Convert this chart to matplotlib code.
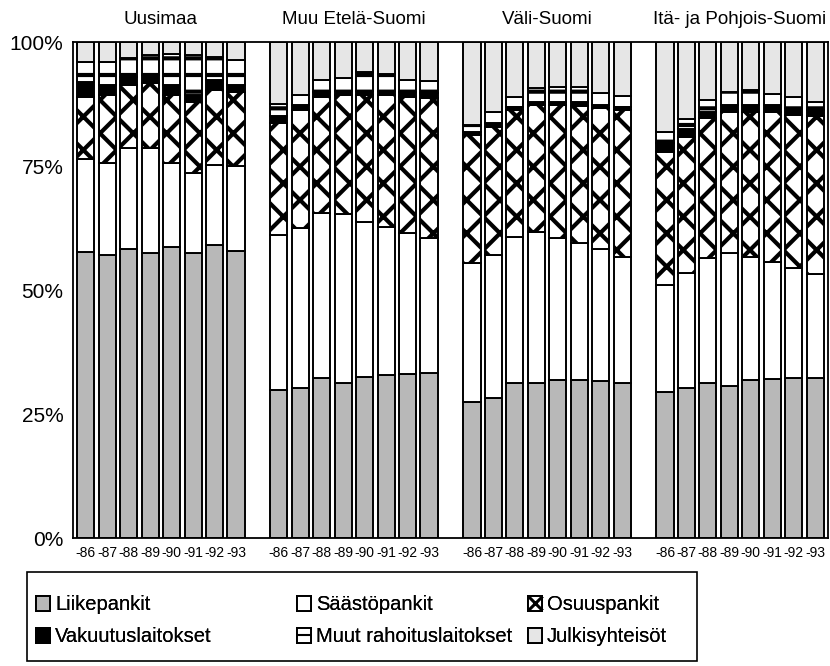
import numpy as np
import matplotlib
matplotlib.use("Agg")
import matplotlib.pyplot as plt
from matplotlib.patches import Patch, Rectangle
from matplotlib.lines import Line2D
from matplotlib.transforms import blended_transform_factory

plt.rcParams['font.family'] = ['Liberation Sans', 'DejaVu Sans']
plt.rcParams['hatch.linewidth'] = 3.0

# -----------------------------
# Data (share of total, %), 8 years per region
# -----------------------------
regions = ["Uusimaa", "Muu Etelä-Suomi", "Väli-Suomi", "Itä- ja Pohjois-Suomi"]
years = ["-86", "-87", "-88", "-89", "-90", "-91", "-92", "-93"]

liikepankit = [57.7, 57.1, 58.3, 57.5, 58.7, 57.5, 59.1, 57.9,
               29.8, 30.2, 32.3, 31.3, 32.5, 32.9, 33.1, 33.3,
               27.5, 28.2, 31.3, 31.2, 31.9, 31.9, 31.7, 31.3,
               29.4, 30.2, 31.3, 30.6, 31.9, 32.0, 32.2, 32.2]
saastopankit = [18.7, 18.5, 20.3, 21.1, 16.9, 16.1, 16.1, 17.1,
                31.3, 32.3, 33.2, 34.0, 31.2, 29.8, 28.4, 27.2,
                27.9, 28.9, 29.4, 30.5, 28.6, 27.6, 26.6, 25.4,
                21.6, 23.2, 25.1, 26.9, 24.8, 23.6, 22.2, 21.0]
osuuspankit = [12.5, 13.7, 12.7, 13.1, 13.7, 14.3, 15.1, 14.9,
               22.6, 23.8, 23.4, 24.0, 25.6, 26.6, 27.4, 28.2,
               25.9, 25.8, 25.6, 25.6, 26.8, 27.6, 28.4, 29.6,
               26.8, 27.4, 28.3, 28.4, 29.2, 30.3, 30.9, 31.9]
vakuutus = [3.0, 2.0, 1.6, 1.6, 2.0, 1.4, 2.0, 1.4,
            1.3, 1.0, 1.0, 0.8, 0.8, 0.8, 1.0, 1.0,
            0.6, 0.8, 0.6, 0.6, 0.6, 0.8, 0.6, 0.6,
            1.8, 1.7, 1.2, 1.4, 1.4, 1.4, 1.4, 1.2]
muut = [4.1, 4.7, 3.9, 4.1, 6.2, 8.1, 4.7, 5.1,
        2.5, 2.0, 2.4, 2.6, 3.9, 3.4, 2.4, 2.4,
        1.4, 2.2, 2.0, 2.8, 3.0, 3.0, 2.4, 2.2,
        2.3, 2.0, 2.4, 2.6, 3.0, 2.2, 2.2, 1.6]
julkis = [4.0, 4.0, 3.2, 2.6, 2.5, 2.6, 3.0, 3.6,
          12.5, 10.7, 7.7, 7.3, 6.0, 6.5, 7.7, 7.9,
          16.7, 14.1, 11.1, 9.3, 9.1, 9.1, 10.3, 10.9,
          18.1, 15.5, 11.7, 10.1, 9.7, 10.5, 11.1, 12.1]

series = [
    ("Liikepankit", liikepankit, "#b8b8b8", ""),
    ("Säästöpankit", saastopankit, "white", ""),
    ("Osuuspankit", osuuspankit, "white", "x"),
    ("Vakuutuslaitokset", vakuutus, "black", ""),
    ("Muut rahoituslaitokset", muut, "white", "-"),
    ("Julkisyhteisöt", julkis, "#e6e6e6", ""),
]

# bar positions: 8 bars per region, one empty slot between regions
n_years = len(years)
x = np.array([g * (n_years + 1) + i for g in range(len(regions)) for i in range(n_years)])

fig = plt.figure(figsize=(8.3, 6.66), dpi=100)
ax = fig.add_axes([73 / 830, 128 / 666, 755 / 830, 496 / 666])

bottom = np.zeros(len(x))
handles = {}
for name, vals, color, hatch in series:
    vals = np.array(vals)
    ax.bar(x, vals, bottom=bottom, width=0.8, color=color, edgecolor="black",
           linewidth=1.4, hatch=hatch)
    handles[name] = Patch(facecolor=color, edgecolor="black", linewidth=1.4)
    bottom += vals

# legend boxes like in the print: X inside for Osuuspankit, bar inside for Muut
handles["Osuuspankit"] = (handles["Osuuspankit"],
                          Line2D([], [], marker="x", markersize=10, mew=2.2,
                                 color="black", linestyle="none"))
handles["Muut rahoituslaitokset"] = (handles["Muut rahoituslaitokset"],
                                     Line2D([], [], marker="_", markersize=10, mew=1.5,
                                            color="black", linestyle="none"))

ax.set_xlim(-0.6, x[-1] + 0.6)
ax.set_ylim(0, 100)
ax.set_yticks([0, 25, 50, 75, 100])
ax.set_yticklabels(["0%", "25%", "50%", "75%", "100%"], fontsize=15)
ax.set_xticks(x)
ax.set_xticklabels(years * len(regions), fontsize=10)
ax.tick_params(axis="both", length=0)
ax.tick_params(axis="y", pad=7)
ax.tick_params(axis="x", pad=6)
for s in ax.spines.values():
    s.set_linewidth(1.3)

# region titles
trans = blended_transform_factory(ax.transData, ax.transAxes)
for g, name in enumerate(regions):
    xc = g * (n_years + 1) + (n_years - 1) / 2
    ax.text(xc, 1.045, name, transform=trans, ha="center", va="center", fontsize=13.5)

# legend: one entry per spot, inside a plain black frame
fig.patches.append(Rectangle((27 / 830, 5 / 666), 670 / 830, 89 / 666,
                             transform=fig.transFigure, fill=False,
                             edgecolor="black", linewidth=1.2))
legend_spots = [
    ("Liikepankit", 36, 605), ("Säästöpankit", 297, 605), ("Osuuspankit", 528, 605),
    ("Vakuutuslaitokset", 36, 637), ("Muut rahoituslaitokset", 297, 637),
    ("Julkisyhteisöt", 528, 637),
]
for name, px, py in legend_spots:
    lg = fig.legend([handles[name]], [name], loc="center left",
                    bbox_to_anchor=(px / 830, 1 - py / 666), fontsize=14.5,
                    frameon=False, handlelength=0.7, handleheight=0.7,
                    handletextpad=0.25, borderpad=0, borderaxespad=0)
    fig.add_artist(lg)

fig.savefig("out.png", dpi=100)
